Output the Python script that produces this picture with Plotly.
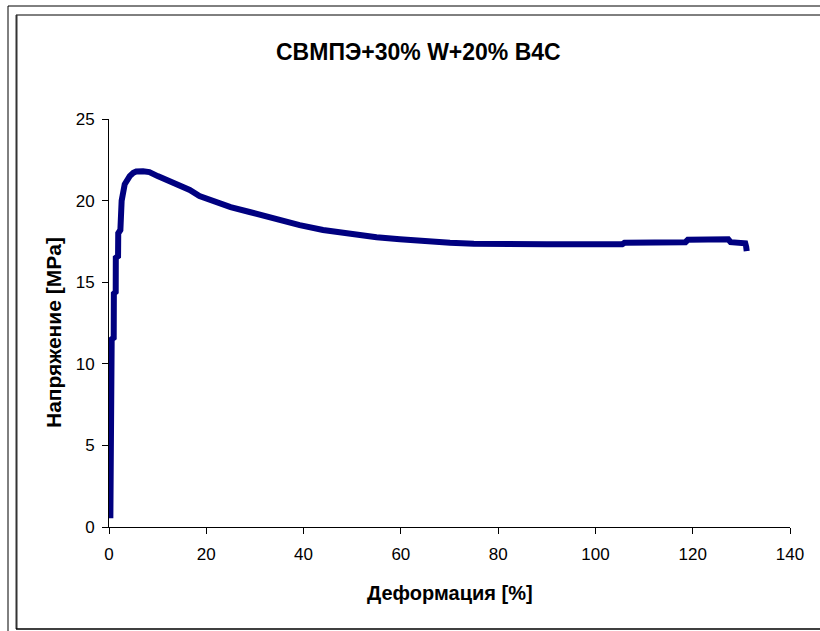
import plotly.graph_objects as go

# Data (strain %, stress MPa)
strain = [0.28, 0.35, 0.45, 0.5, 0.6, 0.55, 0.97, 1.0, 1.38, 1.4, 1.86, 1.9, 2.34, 2.6,
          3.23, 3.7, 4.26, 5.0, 5.6, 7.0, 8.3, 10.0, 12.5, 15.0, 16.6, 18.6, 22.0,
          25.0, 28.9, 33.0, 39.2, 44.0, 49.5, 55.0, 59.8, 65.0, 70.1, 75.0, 80.4,
          90.0, 100.0, 105.5, 106.0, 112.0, 118.5, 119.0, 124.0, 127.3, 127.8,
          130.0, 130.8, 131.0, 131.1]
stress = [0.53, 3.0, 5.8, 8.4, 10.5, 11.5, 11.6, 14.3, 14.4, 16.5, 16.6, 18.0, 18.2, 20.0,
          21.0, 21.3, 21.5, 21.7, 21.78, 21.8, 21.75, 21.5, 21.2, 20.9, 20.65, 20.28, 19.9,
          19.6, 19.3, 18.95, 18.5, 18.2, 17.95, 17.75, 17.63, 17.5, 17.42, 17.36, 17.33,
          17.32, 17.32, 17.32, 17.42, 17.42, 17.45, 17.6, 17.63, 17.63, 17.45,
          17.42, 17.38, 17.15, 16.9]

x_ticks = [0, 20, 40, 60, 80, 100, 120, 140]
y_ticks = [0, 5, 10, 15, 20, 25]

title_text = "СВМПЭ+30% W+20% B4C"
x_title = "Деформация [%]"
y_title = "Напряжение [MPa]"

W, H = 820, 631
ML, MR, MT, MB = 109, 30, 119, 104
PW = W - ML - MR
PH = H - MT - MB


def px(xp):
    return (xp - ML) / PW


def py(yp):
    return (H - MB - yp) / PH


FONT = "Arial, Liberation Sans, sans-serif"

fig = go.Figure()
fig.add_trace(go.Scatter(
    x=strain, y=stress, mode="lines",
    line=dict(color="#000080", width=6),
    showlegend=False,
))

axis_common = dict(
    showgrid=False, zeroline=False, showline=True,
    linecolor="#000000", linewidth=1,
    ticks="outside", ticklen=6, tickcolor="#000000", tickwidth=1,
    tickfont=dict(family=FONT, size=17, color="#000000"),
)

fig.update_layout(
    width=W, height=H,
    margin=dict(l=ML, r=MR, t=MT, b=MB, pad=0),
    paper_bgcolor="white", plot_bgcolor="white",
    xaxis=dict(range=[0, 140], tickvals=x_ticks, ticklabelstandoff=6, **axis_common),
    yaxis=dict(range=[0, 25], tickvals=y_ticks, ticklabelstandoff=4, **axis_common),
    font=dict(family=FONT, color="#000000"),
)

# Titles
fig.add_annotation(text="<b>" + title_text + "</b>", xref="paper", yref="paper",
                   x=px(418), y=py(52), showarrow=False,
                   font=dict(family=FONT, size=23, color="#000000"),
                   xanchor="center", yanchor="middle")
fig.add_annotation(text="<b>" + x_title + "</b>", xref="paper", yref="paper",
                   x=px(450), y=py(593), showarrow=False,
                   font=dict(family=FONT, size=20, color="#000000"),
                   xanchor="center", yanchor="middle")
fig.add_annotation(text="<b>" + y_title + "</b>", xref="paper", yref="paper",
                   x=px(53), y=py(333), showarrow=False, textangle=-90,
                   font=dict(family=FONT, size=21, color="#000000"),
                   xanchor="center", yanchor="middle")

# Frames (outer cell border + chart area border)
fig.add_shape(type="line", xref="paper", yref="paper",
              x0=px(8), x1=px(820), y0=py(6), y1=py(6),
              line=dict(color="#000000", width=1))
fig.add_shape(type="line", xref="paper", yref="paper",
              x0=px(8), x1=px(8), y0=py(6), y1=py(631),
              line=dict(color="#000000", width=1))
fig.add_shape(type="line", xref="paper", yref="paper",
              x0=px(16), x1=px(820), y0=py(15), y1=py(15),
              line=dict(color="#000000", width=1))
fig.add_shape(type="line", xref="paper", yref="paper",
              x0=px(16.5), x1=px(16.5), y0=py(15), y1=py(629),
              line=dict(color="#333333", width=2))
fig.add_shape(type="line", xref="paper", yref="paper",
              x0=px(16), x1=px(820), y0=py(629), y1=py(629),
              line=dict(color="#000000", width=1.5))

fig.write_html(
    "out.html",
    config={"displayModeBar": False},
    post_script="document.body.style.margin='0';document.body.style.overflow='hidden';",
)
